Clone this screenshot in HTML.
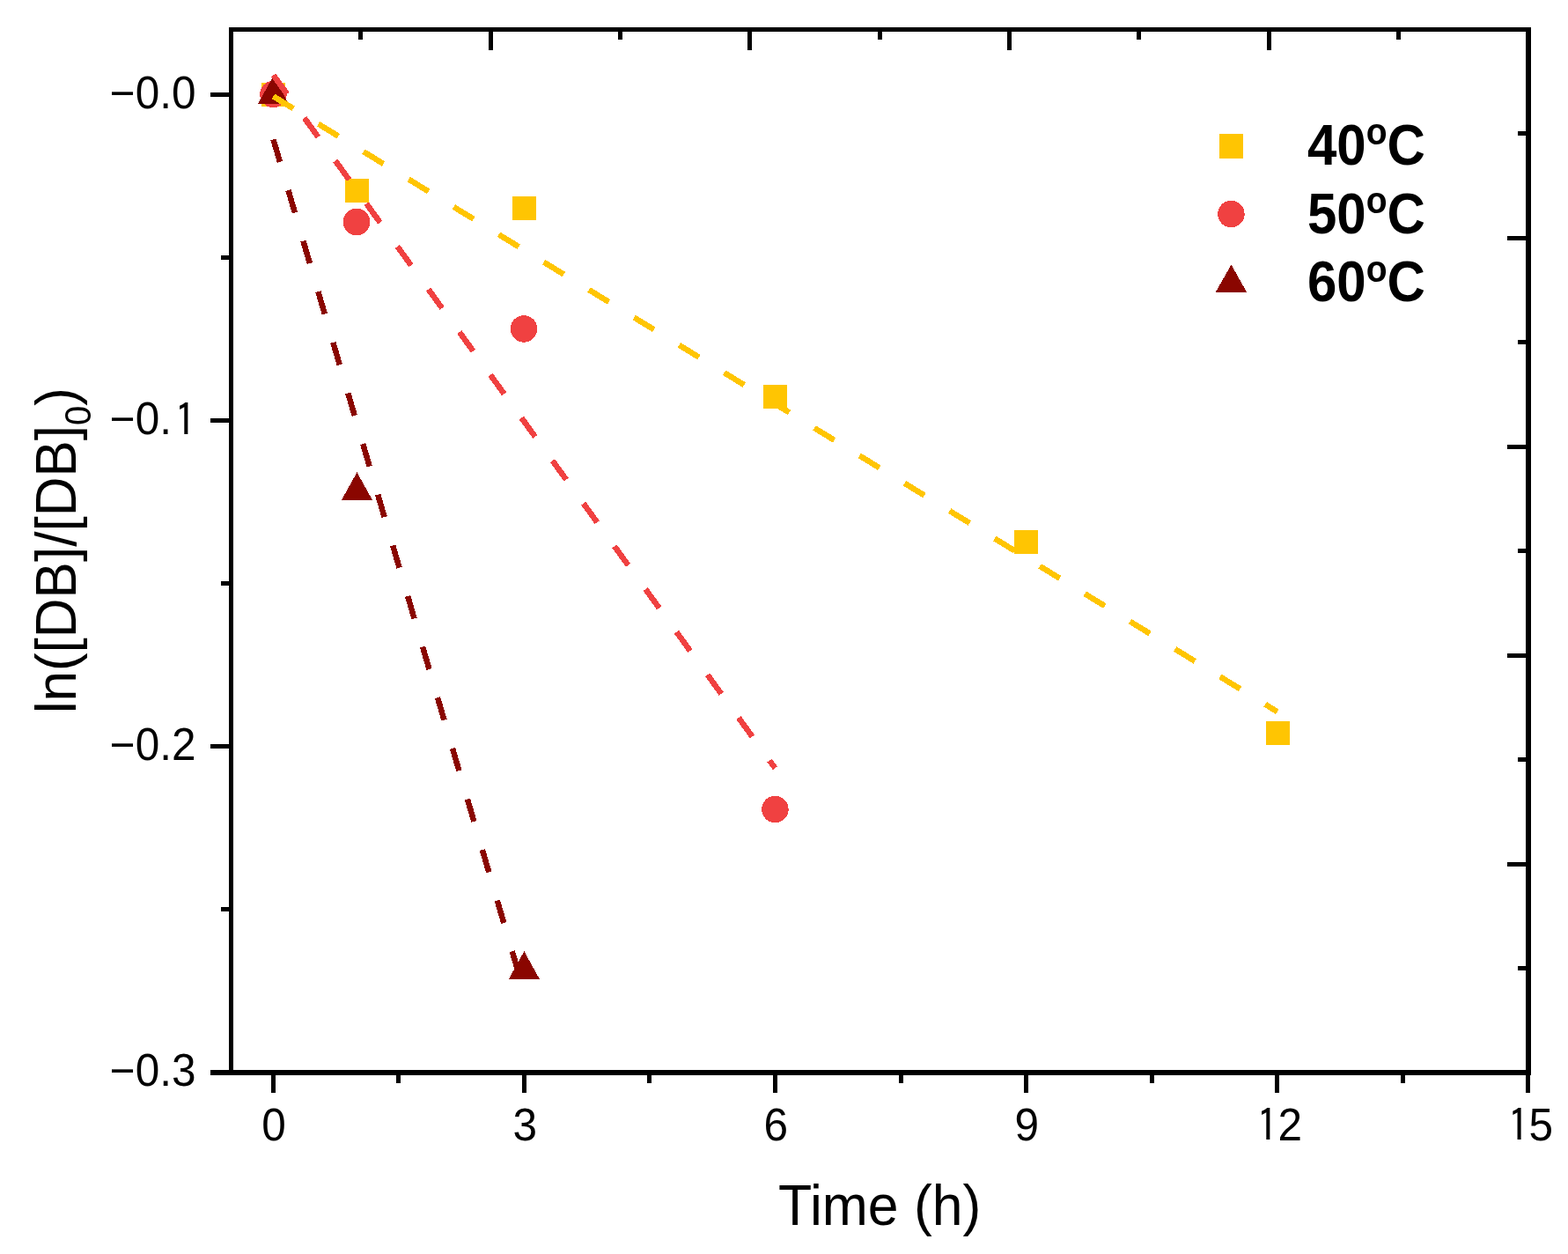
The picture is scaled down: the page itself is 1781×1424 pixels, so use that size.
<!DOCTYPE html>
<html><head><meta charset="utf-8"><title>ln([DB]/[DB]0) vs Time</title>
<style>
html,body{margin:0;padding:0;background:#fff;}
body{width:1781px;height:1424px;overflow:hidden;}
svg{display:block;}
svg text{font-family:"Liberation Sans",Arial,sans-serif;fill:#000;}
</style></head>
<body>
<svg width="1781" height="1424" viewBox="0 0 1781 1424" shape-rendering="crispEdges">
<rect width="1781" height="1424" fill="#fff"/>
<rect x="260" y="31" width="5" height="1190" fill="#000"/>
<rect x="260" y="31" width="1479" height="5" fill="#000"/>
<rect x="1733" y="31" width="6" height="1190" fill="#000"/>
<rect x="260" y="1215" width="1479" height="6" fill="#000"/>
<rect x="239" y="105.00" width="22" height="5" fill="#000"/>
<rect x="239" y="475.10" width="22" height="5" fill="#000"/>
<rect x="239" y="845.20" width="22" height="5" fill="#000"/>
<rect x="239" y="1215" width="22" height="6" fill="#000"/>
<rect x="251" y="290.05" width="10" height="5" fill="#000"/>
<rect x="251" y="660.15" width="10" height="5" fill="#000"/>
<rect x="251" y="1030.25" width="10" height="5" fill="#000"/>
<rect x="307.80" y="1220" width="5" height="21" fill="#000"/>
<rect x="592.89" y="1220" width="5" height="21" fill="#000"/>
<rect x="877.98" y="1220" width="5" height="21" fill="#000"/>
<rect x="1163.07" y="1220" width="5" height="21" fill="#000"/>
<rect x="1448.16" y="1220" width="5" height="21" fill="#000"/>
<rect x="1733.25" y="1220" width="5" height="21" fill="#000"/>
<rect x="450.35" y="1220" width="5" height="9.5" fill="#000"/>
<rect x="735.43" y="1220" width="5" height="9.5" fill="#000"/>
<rect x="1020.53" y="1220" width="5" height="9.5" fill="#000"/>
<rect x="1305.62" y="1220" width="5" height="9.5" fill="#000"/>
<rect x="1590.70" y="1220" width="5" height="9.5" fill="#000"/>
<rect x="407.35" y="35" width="5" height="10" fill="#000"/>
<rect x="554.70" y="35" width="5" height="22" fill="#000"/>
<rect x="702.05" y="35" width="5" height="10" fill="#000"/>
<rect x="849.40" y="35" width="5" height="22" fill="#000"/>
<rect x="996.75" y="35" width="5" height="10" fill="#000"/>
<rect x="1144.10" y="35" width="5" height="22" fill="#000"/>
<rect x="1291.45" y="35" width="5" height="10" fill="#000"/>
<rect x="1438.80" y="35" width="5" height="22" fill="#000"/>
<rect x="1586.15" y="35" width="5" height="10" fill="#000"/>
<rect x="1723.50" y="1097.05" width="10.5" height="5" fill="#000"/>
<rect x="1712.00" y="978.60" width="22" height="5" fill="#000"/>
<rect x="1723.50" y="860.15" width="10.5" height="5" fill="#000"/>
<rect x="1712.00" y="741.70" width="22" height="5" fill="#000"/>
<rect x="1723.50" y="623.25" width="10.5" height="5" fill="#000"/>
<rect x="1712.00" y="504.80" width="22" height="5" fill="#000"/>
<rect x="1723.50" y="386.35" width="10.5" height="5" fill="#000"/>
<rect x="1712.00" y="267.90" width="22" height="5" fill="#000"/>
<rect x="1723.50" y="149.45" width="10.5" height="5" fill="#000"/>
<text transform="translate(124.79 122.90) scale(1 1.03)" font-size="49.5">−0.0</text>
<text transform="translate(124.79 493.00) scale(1 1.03)" font-size="49.5">−0.<tspan font-family="IPAGothic, 'Liberation Sans', sans-serif" dx="3.37" dy="2.5">1</tspan></text>
<text transform="translate(124.79 863.10) scale(1 1.03)" font-size="49.5">−0.2</text>
<text transform="translate(124.79 1233.20) scale(1 1.03)" font-size="49.5">−0.3</text>
<text transform="translate(297.34 1294.90) scale(1 1.03)" font-size="49.5">0</text>
<text transform="translate(582.43 1294.90) scale(1 1.03)" font-size="49.5">3</text>
<text transform="translate(867.52 1294.90) scale(1 1.03)" font-size="49.5">6</text>
<text transform="translate(1152.61 1294.90) scale(1 1.03)" font-size="49.5">9</text>
<text transform="translate(1423.94 1294.90) scale(1 1.03)" font-size="49.5"><tspan font-family="IPAGothic, 'Liberation Sans', sans-serif" dx="3.37" dy="2.5">1</tspan><tspan dx="-0.59" dy="-2.5">2</tspan></text>
<text transform="translate(1709.03 1294.90) scale(1 1.03)" font-size="49.5"><tspan font-family="IPAGothic, 'Liberation Sans', sans-serif" dx="3.37" dy="2.5">1</tspan><tspan dx="-0.59" dy="-2.5">5</tspan></text>
<text transform="translate(999.20 1391.00) scale(1 1.04)" text-anchor="middle" font-size="62.5">Time (h)</text>
<text transform="translate(86.10 625.20) rotate(-90) scale(1 1.04)" text-anchor="middle" font-size="62">ln([DB]/[DB]<tspan font-size="40" dy="16.5">0</tspan><tspan dy="-16.5">)</tspan></text>
<rect x="297.00" y="94.00" width="27" height="27" fill="#FFC502"/>
<rect x="392.00" y="203.00" width="27" height="27" fill="#FFC502"/>
<rect x="581.90" y="222.80" width="27" height="27" fill="#FFC502"/>
<rect x="867.00" y="437.40" width="27" height="27" fill="#FFC502"/>
<rect x="1152.00" y="602.00" width="27" height="27" fill="#FFC502"/>
<rect x="1438.00" y="819.00" width="27" height="27" fill="#FFC502"/>
<circle cx="310.50" cy="107.00" r="15.25" fill="#F04141"/>
<circle cx="405.00" cy="252.00" r="15.25" fill="#F04141"/>
<circle cx="595.00" cy="373.40" r="15.25" fill="#F04141"/>
<circle cx="880.40" cy="919.00" r="15.25" fill="#F04141"/>
<polygon points="310.50,86.50 328.00,118.00 293.00,118.00" fill="#8A0600"/>
<polygon points="405.50,536.30 423.00,567.80 388.00,567.80" fill="#8A0600"/>
<polygon points="595.40,1080.30 612.90,1111.80 577.90,1111.80" fill="#8A0600"/>
<line x1="310.5" y1="109.4" x2="1450.8" y2="808.2" stroke="#FFC502" stroke-width="6.5" stroke-dasharray="26.5 33.56"/>
<line x1="310.5" y1="85.3" x2="880.4" y2="872.3" stroke="#F04141" stroke-width="6.5" stroke-dasharray="26.5 33.56"/>
<line x1="310.5" y1="158.4" x2="595.4" y2="1126.6" stroke="#8A0600" stroke-width="6.5" stroke-dasharray="26.5 33.56"/>
<rect x="1385" y="152" width="27" height="28" fill="#FFC502"/>
<circle cx="1398.40" cy="243.00" r="15.25" fill="#F04141"/>
<polygon points="1398.5,300.7 1416.2,331.8 1380.7,331.8" fill="#8A0600"/>
<text transform="translate(1485.00 186.80) scale(1 1.07)" font-size="60" font-weight="bold">40<tspan font-size="39" dy="-21.2">o</tspan><tspan dy="21.2">C</tspan></text>
<text transform="translate(1485.00 264.80) scale(1 1.07)" font-size="60" font-weight="bold">50<tspan font-size="39" dy="-21.2">o</tspan><tspan dy="21.2">C</tspan></text>
<text transform="translate(1485.00 342.30) scale(1 1.07)" font-size="60" font-weight="bold">60<tspan font-size="39" dy="-21.2">o</tspan><tspan dy="21.2">C</tspan></text>
</svg>
</body></html>
